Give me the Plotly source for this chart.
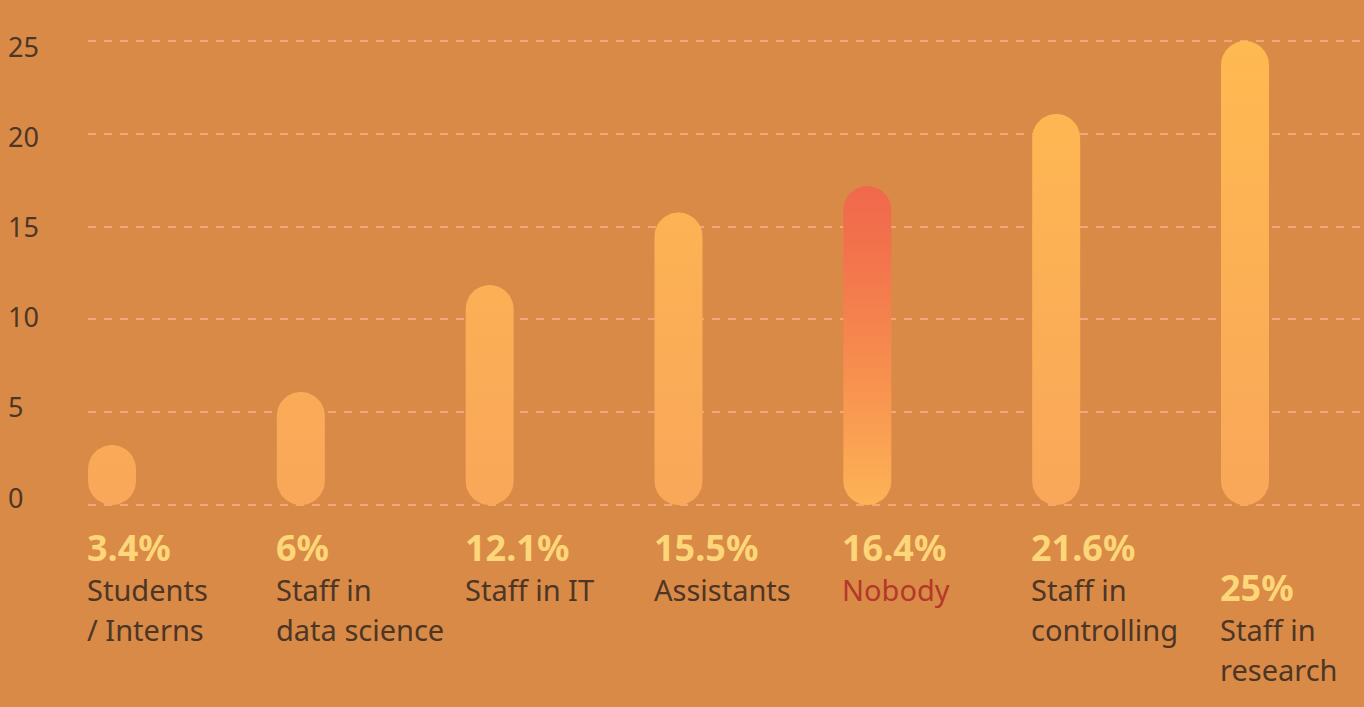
import numpy as np
import plotly.graph_objects as go

# ---- data ----
categories = ["Students<br>/ Interns", "Staff in<br>data science", "Staff in IT", "Assistants",
              "Nobody", "Staff in<br>controlling", "Staff in<br>research"]
bar_heights = [3.23, 6.09, 11.85, 15.76, 17.19, 21.07, 25.0]   # as drawn in the picture
value_labels = ["3.4%", "6%", "12.1%", "15.5%", "16.4%", "21.6%", "25%"]
y_ticks = [0, 5, 10, 15, 20, 25]
highlight = "Nobody"

# ---- styles / layout constants ----
W, H = 1364, 707
ML, MR, MT, MB = 88, 0, 35, 197
BG = "#D98A46"
GRID = "#F2A67A"
TEXT = "#4D3626"
VALUE_COL = "#FCD679"
HILITE_TEXT = "#B5382A"
FONT = "Noto Sans"
BAR_R_PX = 24

plot_w = W - ML - MR
plot_h = H - MT - MB
# x: bar centres at 112 .. 1245 px
x_px_unit = (1245 - 112) / (len(categories) - 1)
x0 = -(112 - ML) / x_px_unit
x_range = [x0, x0 + plot_w / x_px_unit]
# y: 0 at 505 px, 25 at 41 px
y_px_unit = (505 - 41) / 25
y_range = [-(H - MB - 505) / y_px_unit, 25 + (41 - MT) / y_px_unit]

rx = BAR_R_PX / x_px_unit
ry = BAR_R_PX / y_px_unit

fig = go.Figure()

for i, (cat, v) in enumerate(zip(categories, bar_heights)):
    th_top = np.linspace(0, np.pi, 30)
    th_bot = np.linspace(np.pi, 2 * np.pi, 30)
    xs = np.concatenate([i + rx * np.cos(th_top), i + rx * np.cos(th_bot)])
    ys = np.concatenate([(v - ry) + ry * np.sin(th_top), ry + ry * np.sin(th_bot)])
    xs = np.append(xs, xs[0])
    ys = np.append(ys, ys[0])
    if cat == highlight:
        grad = dict(type="vertical", colorscale=[[0, "#FDB356"], [0.4, "#F7904F"], [0.8, "#F2724C"], [1, "#F0684C"]])
    else:
        grad = dict(type="vertical", start=0, stop=25,
                    colorscale=[[0, "#F9A759"], [1, "#FFB951"]])
    fig.add_trace(go.Scatter(x=xs, y=ys, mode="lines", fill="toself",
                             fillgradient=grad, line=dict(width=0),
                             hoverinfo="skip", showlegend=False))

annotations = []
# y tick labels, left-aligned at x=8 px
for t in y_ticks:
    shift = -8 + 13 * t / 25
    annotations.append(dict(x=0, xref="paper", xanchor="left", xshift=6 - ML,
                            y=t, yref="y", yanchor="middle", yshift=-shift,
                            text=str(t), showarrow=False,
                            font=dict(family=FONT, size=27, color=TEXT)))

# value + category labels
for i, (cat, vl) in enumerate(zip(categories, value_labels)):
    lines = cat.split("<br>")
    extra = -40 if len(lines) == 2 and i == len(categories) - 1 else 0
    annotations.append(dict(x=i, xref="x", xanchor="left", xshift=-BAR_R_PX - 3,
                            y=0, yref="y", yanchor="middle", yshift=-42 + extra,
                            text="<b>" + vl + "</b>", showarrow=False,
                            font=dict(family=FONT, size=36, color=VALUE_COL)))
    for j, ln in enumerate(lines):
        annotations.append(dict(x=i, xref="x", xanchor="left", xshift=-BAR_R_PX - 3,
                                y=0, yref="y", yanchor="middle",
                                yshift=-84 - 40 * j + extra,
                                text=ln, showarrow=False,
                                font=dict(family=FONT, size=29,
                                          color=HILITE_TEXT if cat == highlight else TEXT)))

fig.update_layout(
    width=W, height=H,
    margin=dict(l=ML, r=MR, t=MT, b=MB, pad=0),
    paper_bgcolor=BG, plot_bgcolor=BG,
    xaxis=dict(range=x_range, showgrid=False, zeroline=False, showticklabels=False,
               showline=False, fixedrange=True),
    yaxis=dict(range=y_range, tickvals=y_ticks, showgrid=True, gridcolor=GRID,
               gridwidth=2, griddash="8px,8px", zeroline=False, showticklabels=False,
               showline=False, fixedrange=True),
    annotations=annotations,
    font=dict(family=FONT),
)

fig.write_html("out.html", config={"displayModeBar": False})
